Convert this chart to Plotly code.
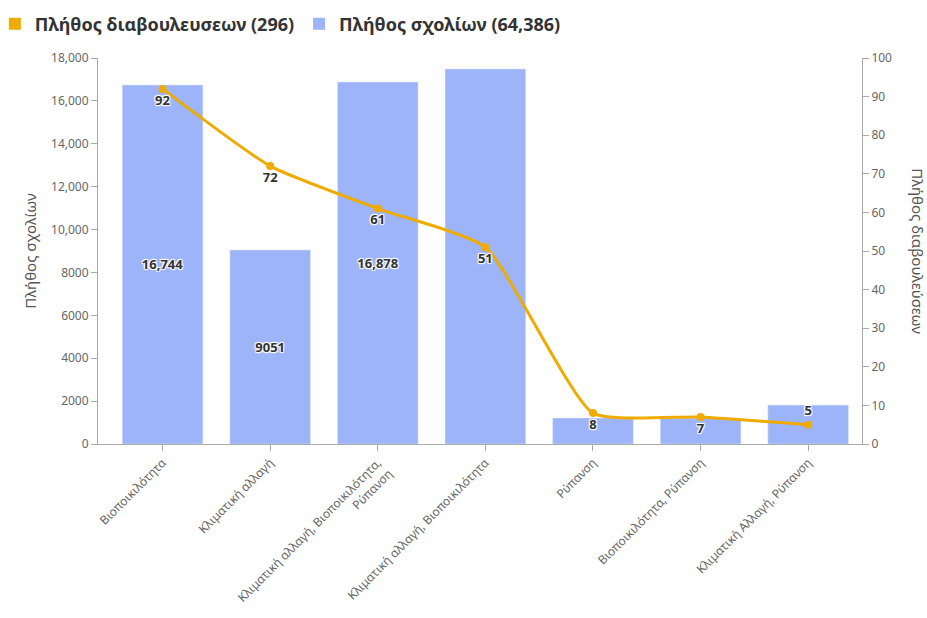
import plotly.graph_objects as go

categories = [
    "Βιοποικιλότητα",
    "Κλιματική αλλαγή",
    "Κλιματική αλλαγή, Βιοποικιλότητα,<br>Ρύπανση",
    "Κλιματική αλλαγή, Βιοποικιλότητα",
    "Ρύπανση",
    "Βιοποικιλότητα, Ρύπανση",
    "Κλιματική Αλλαγή, Ρύπανση",
]
comments = [16744, 9051, 16878, 17490, 1210, 1200, 1813]
comment_labels = ["16,744", "9051", "16,878", "", "", "", ""]
consultations = [92, 72, 61, 51, 8, 7, 5]
consultation_labels = ["92", "72", "61", "51", "8", "7", "5"]
consultation_label_pos = ["bottom center"] * 6 + ["top center"]

left_tickvals = [0, 2000, 4000, 6000, 8000, 10000, 12000, 14000, 16000, 18000]
left_ticktext = ["0", "2000", "4000", "6000", "8000", "10,000", "12,000", "14,000", "16,000", "18,000"]
right_tickvals = [0, 10, 20, 30, 40, 50, 60, 70, 80, 90, 100]

legend_line = "Πλήθος διαβουλευσεων (296)"
legend_bar = "Πλήθος σχολίων (64,386)"

FONT = "Noto Sans"
BAR_C = "#9db4f8"
LINE_C = "#efab00"
shadow = "1px 1px 1px #fff, -1px -1px 1px #fff, 1px -1px 1px #fff, -1px 1px 1px #fff"

fig = go.Figure()

fig.add_trace(go.Bar(
    x=categories, y=comments, marker=dict(color=BAR_C),
    text=comment_labels, textposition="inside", insidetextanchor="middle",
    textangle=0,
    textfont=dict(family=FONT, size=13, color="#333", weight="bold", shadow=shadow),
    showlegend=False, yaxis="y", hoverinfo="x+y",
))

fig.add_trace(go.Scatter(
    x=categories, y=consultations, yaxis="y2", mode="lines+markers+text",
    line=dict(color=LINE_C, width=3, shape="spline", smoothing=0.5),
    marker=dict(color=LINE_C, size=8),
    text=consultation_labels, textposition=consultation_label_pos,
    textfont=dict(family=FONT, size=13, color="#333", weight="bold", shadow=shadow),
    showlegend=False,
))

# legend entries with square icons
fig.add_trace(go.Scatter(x=[None], y=[None], mode="markers", name=legend_line,
                         marker=dict(symbol="square", color=LINE_C, size=14)))
fig.add_trace(go.Scatter(x=[None], y=[None], mode="markers", name=legend_bar,
                         marker=dict(symbol="square", color=BAR_C, size=14)))

axis_common = dict(
    showgrid=False, zeroline=False, showline=True, linecolor="#aaa", linewidth=1,
    ticks="outside", ticklen=6, tickcolor="#aaa",
    tickfont=dict(family=FONT, size=12, color="#666"),
)

fig.update_layout(
    width=927, height=618,
    margin=dict(l=98, r=65, t=58, b=174, autoexpand=False),
    paper_bgcolor="white", plot_bgcolor="white",
    bargap=0.25,
    font=dict(family=FONT),
    legend=dict(orientation="h", x=-0.135, xanchor="left", y=1.088, yanchor="middle",
                font=dict(family=FONT, size=18, color="#333", weight="bold"),
                itemsizing="constant", itemwidth=30, tracegroupgap=0),
    xaxis=dict(**axis_common, range=[-0.6, 6.5], tickangle=-45, type="category"),
    yaxis=dict(**axis_common, range=[0, 18000], tickvals=left_tickvals, ticktext=left_ticktext,
               title=dict(text="Πλήθος σχολίων", font=dict(family=FONT, size=15, color="#555"), standoff=10)),
    yaxis2=dict(**axis_common, overlaying="y", side="right", range=[0, 100], tickvals=right_tickvals),
    annotations=[dict(text="Πλήθος διαβουλεύσεων", textangle=90, xref="paper", yref="paper",
                      x=1.073, y=0.5, xanchor="center", yanchor="middle", showarrow=False,
                      font=dict(family=FONT, size=15, color="#555"))],
)

fig.write_html("out.html", config={"displayModeBar": False},
               post_script="document.body.style.margin='0';")
